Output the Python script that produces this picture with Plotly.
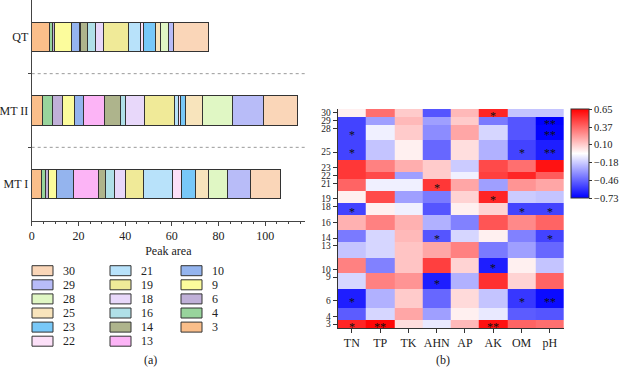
import plotly.graph_objects as go

# ---------------- data ----------------
peaks = [3, 4, 6, 9, 10, 13, 14, 16, 18, 19, 21, 22, 23, 25, 28, 29, 30]
peak_colors = ["#FABE8A", "#98D49C", "#C0B0D8", "#FCFC9C", "#94B4EE", "#FCB4F6",
               "#AEB48C", "#B0E0E8", "#E8D8FA", "#F0EA98", "#B8E2FA", "#FCE0F8",
               "#78C8F8", "#F8E4BC", "#E0F7C4", "#B8BCF8", "#FAD6B8"]
samples = ["MT I", "MT II", "QT"]
mt1 = [4.0, 2.0, 1.4, 3.3, 7.2, 10.8, 2.9, 3.8, 4.7, 7.8, 12.4, 4.0, 5.7, 5.7, 8.3, 9.6, 13.1]
mt2 = [4.6, 4.1, 4.4, 5.3, 3.6, 9.0, 6.9, 2.1, 8.4, 12.6, 1.9, 1.0, 2.0, 7.2, 12.9, 13.3, 14.4]
qt = [7.6, 1.2, 1.0, 7.1, 3.4, 0.7, 3.0, 3.3, 3.4, 10.7, 5.0, 1.5, 5.1, 2.2, 3.2, 2.5, 14.8]

factors = ["TN", "TP", "TK", "AHN", "AP", "AK", "OM", "pH"]
corr = [
    [0.55, 0.63, 0.05, -0.10, 0.15, 0.60, 0.38, 0.35],    # 3
    [-0.48, -0.15, 0.20, -0.30, 0.00, -0.10, -0.48, -0.50],  # 4
    [-0.65, -0.25, 0.10, -0.45, 0.06, -0.20, -0.58, -0.70],  # 6
    [-0.15, 0.30, 0.25, -0.65, -0.25, 0.52, 0.08, 0.38],   # 9
    [0.30, -0.38, 0.12, 0.48, 0.08, -0.65, 0.00, -0.20],   # 10
    [-0.20, -0.15, 0.12, 0.20, 0.30, -0.40, -0.30, -0.45],  # 13
    [-0.40, -0.15, 0.15, -0.50, -0.15, 0.00, -0.38, -0.55],  # 14
    [0.17, 0.30, 0.17, -0.25, -0.38, 0.42, 0.28, 0.38],    # 16
    [-0.55, 0.00, -0.08, -0.50, 0.00, 0.08, -0.55, -0.55],  # 18
    [0.00, 0.45, -0.30, -0.40, 0.08, 0.55, -0.18, -0.20],  # 19
    [0.38, -0.08, -0.08, 0.50, 0.20, -0.30, 0.25, 0.20],   # 21
    [0.50, 0.45, -0.30, 0.10, -0.08, 0.48, 0.55, 0.40],    # 22
    [0.50, 0.30, 0.18, 0.10, -0.18, 0.45, 0.35, 0.60],     # 23
    [-0.55, -0.20, 0.00, -0.45, 0.05, -0.25, -0.55, -0.65],  # 25
    [-0.55, -0.08, 0.10, -0.35, 0.20, -0.15, -0.50, -0.72],  # 28
    [-0.55, -0.30, 0.15, -0.30, 0.10, -0.40, -0.50, -0.73],  # 29
    [0.00, 0.35, 0.10, -0.50, 0.15, 0.55, -0.20, -0.20],   # 30
]
sig = [
    ["*", "**", "", "", "", "**", "", ""],   # 3
    ["", "", "", "", "", "", "", ""],        # 4
    ["*", "", "", "", "", "", "*", "**"],    # 6
    ["", "", "", "*", "", "", "", ""],       # 9
    ["", "", "", "", "", "*", "", ""],       # 10
    ["", "", "", "", "", "", "", ""],        # 13
    ["", "", "", "*", "", "", "", "*"],      # 14
    ["", "", "", "", "", "", "", ""],        # 16
    ["*", "", "", "", "", "", "*", "*"],     # 18
    ["", "", "", "", "", "*", "", ""],       # 19
    ["", "", "", "*", "", "", "", ""],       # 21
    ["", "", "", "", "", "", "", ""],        # 22
    ["", "", "", "", "", "", "", ""],        # 23
    ["*", "", "", "", "", "", "*", "**"],    # 25
    ["*", "", "", "", "", "", "", "**"],     # 28
    ["", "", "", "", "", "", "", "**"],      # 29
    ["", "", "", "", "", "*", "", ""],       # 30
]
cbar_vals = [-0.73, -0.46, -0.18, 0.10, 0.37, 0.65]
legend_cols = [[30, 29, 28, 25, 23, 22], [21, 19, 18, 16, 14, 13], [10, 9, 6, 4, 3]]

FONT = "Liberation Serif"
W, H = 620, 368
fig = go.Figure()

# ---------------- left: stacked bars ----------------
for i, p in enumerate(peaks):
    fig.add_trace(go.Bar(
        y=[0, 1, 2], x=[mt1[i], mt2[i], qt[i]], orientation="h",
        marker=dict(color=peak_colors[i], line=dict(color="#333333", width=1)),
        width=0.4, name=str(p), showlegend=False, xaxis="x", yaxis="y"))

# ---------------- right: heatmap ----------------
fig.add_trace(go.Heatmap(
    z=corr, x=factors, y=peaks, xaxis="x2", yaxis="y2",
    zmin=min(cbar_vals), zmax=max(cbar_vals),
    colorscale=[[0, "rgb(0,0,255)"], [0.5, "rgb(255,255,255)"], [1, "rgb(255,0,0)"]],
    colorbar=dict(
        x=571 / W, xanchor="left", xpad=0, ypad=0, y=1 - 109 / H, yanchor="top",
        len=89 / H, lenmode="fraction", thickness=18,
        outlinewidth=1, outlinecolor="#333333",
        tickmode="array", tickvals=cbar_vals,
        ticktext=[f"{v:.2f}".replace("-", "\u2212") for v in cbar_vals],
        ticks="outside", ticklen=3, tickcolor="#333333",
        tickfont=dict(family=FONT, size=10.5, color="#222222")),
    showscale=True))

# significance marks, placed at the centre of each cell
bounds = [peaks[0] - (peaks[1] - peaks[0]) / 2]
for k in range(len(peaks) - 1):
    bounds.append((peaks[k] + peaks[k + 1]) / 2)
bounds.append(peaks[-1] + (peaks[-1] - peaks[-2]) / 2)
annotations = []
for r, p in enumerate(peaks):
    yc = (bounds[r] + bounds[r + 1]) / 2
    for c, f in enumerate(factors):
        if sig[r][c]:
            annotations.append(dict(
                x=f, y=yc, xref="x2", yref="y2", text=sig[r][c], showarrow=False,
                font=dict(family=FONT, size=12, color="#111111"), yshift=-3))

# ---------------- manual legend ----------------
shapes = []
col_x = [32, 110, 181]
for ci, col in enumerate(legend_cols):
    for ri, p in enumerate(col):
        yc = 270.7 + ri * 14.1
        x0 = col_x[ci]
        shapes.append(dict(type="rect", xref="paper", yref="paper",
                           x0=x0 / W, x1=(x0 + 21) / W,
                           y0=1 - (yc + 5) / H, y1=1 - (yc - 5) / H,
                           fillcolor=peak_colors[peaks.index(p)],
                           line=dict(color="#333333", width=1)))
        annotations.append(dict(x=(x0 + 29) / W, y=1 - yc / H, xref="paper", yref="paper",
                                text=str(p), showarrow=False, xanchor="left", yanchor="middle",
                                font=dict(family=FONT, size=12, color="#222222")))

# dotted separators between bars
for yv in [0.5, 1.5]:
    shapes.append(dict(type="line", xref="x", yref="y", x0=0, x1=117, y0=yv, y1=yv,
                       line=dict(color="#999999", width=1, dash="dot")))

annotations.append(dict(x=150 / W, y=1 - 360 / H, xref="paper", yref="paper", text="(a)",
                        showarrow=False, xanchor="center", yanchor="middle",
                        font=dict(family=FONT, size=12, color="#222222")))
annotations.append(dict(x=443 / W, y=1 - 360 / H, xref="paper", yref="paper", text="(b)",
                        showarrow=False, xanchor="center", yanchor="middle",
                        font=dict(family=FONT, size=12, color="#222222")))

fig.update_layout(
    width=W, height=H, margin=dict(l=0, r=0, t=0, b=0, autoexpand=False),
    paper_bgcolor="white", plot_bgcolor="white",
    font=dict(family=FONT, size=11, color="#222222"),
    barmode="stack", bargap=0.6,
    xaxis=dict(domain=[31.7 / W, 305 / W], range=[0, 117], anchor="y",
               tickmode="array", tickvals=[0, 20, 40, 60, 80, 100],
               ticks="outside", ticklen=4, tickcolor="#444444",
               minor=dict(dtick=5, tick0=0, ticks="outside", ticklen=2, tickcolor="#444444"),
               showline=True, linecolor="#444444", linewidth=1,
               showgrid=False, zeroline=False,
               tickfont=dict(family=FONT, size=12),
               title=dict(text="Peak area", font=dict(family=FONT, size=12), standoff=4)),
    yaxis=dict(domain=[1 - 221 / H, 1.0], range=[-0.5, 2.5], anchor="x",
               tickmode="array", tickvals=[0, 1, 2], ticktext=samples, ticks="",
               minor=dict(tickmode="array", tickvals=[0.5, 1.5], ticks="outside",
                          ticklen=3, tickcolor="#444444"),
               showline=True, linecolor="#444444", linewidth=1,
               showgrid=False, zeroline=False,
               tickfont=dict(family=FONT, size=12)),
    xaxis2=dict(domain=[337.7 / W, 564 / W], anchor="y2",
                ticks="outside", ticklen=4, tickcolor="#333333",
                showline=True, linecolor="#333333", linewidth=1,
                showgrid=False, zeroline=False,
                tickfont=dict(family=FONT, size=12)),
    yaxis2=dict(domain=[1 - 328 / H, 1 - 109 / H], anchor="x2", range=[2.5, 30.5],
                tickmode="array", tickvals=peaks,
                ticks="outside", ticklen=4, tickcolor="#333333",
                showline=True, linecolor="#333333", linewidth=1,
                showgrid=False, zeroline=False,
                tickfont=dict(family=FONT, size=9.5)),
    shapes=shapes, annotations=annotations,
)

fig.write_html("out.html")
